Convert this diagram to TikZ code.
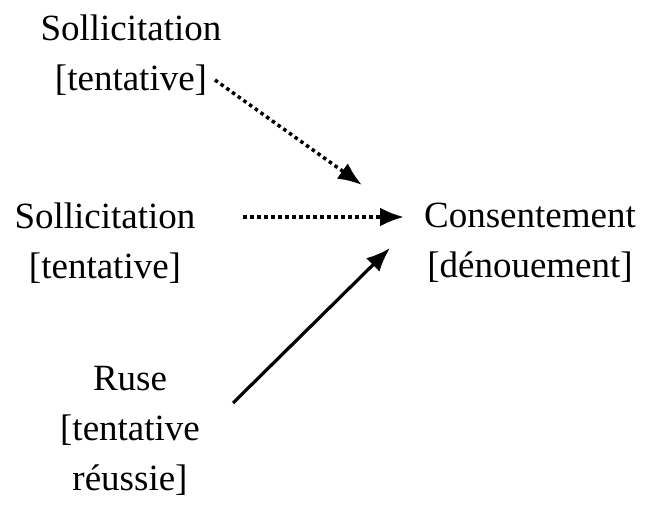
\documentclass[tikz,border=0pt]{standalone}
\usepackage{fontspec}
\setmainfont{Liberation Serif}
\usetikzlibrary{arrows.meta}
\tikzset{
	lbl/.style={align=center, inner sep=0pt, font=\fontsize{37}{50}\selectfont},
	tip/.style={-{Latex[length=24pt,width=19pt]}, line width=3.2pt},
	dots/.style={tip, dash pattern=on 3.5pt off 3.5pt, line width=3.5pt}
}
\begin{document}
\begin{tikzpicture}[x=1pt,y=-1pt]
	\useasboundingbox (0,0) rectangle (650,514);
	\node[lbl] (sol1) at (131,55) {Sollicitation\\\relax[tentative]};
	\node[lbl] (sol2) at (105,243) {Sollicitation\\\relax[tentative]};
	\node[lbl] (cons) at (530,243) {Consentement\\\relax[dénouement]};
	\node[lbl] (ruse) at (130,431) {Ruse\\\relax[tentative\\réussie]};
	\coordinate (a1) at (215,80);
	\coordinate (b1) at (362,185);
	\coordinate (a2) at (243,217);
	\coordinate (b2) at (404,217);
	\coordinate (a3) at (233,403);
	\coordinate (b3) at (390,248);
	\draw[dots] (a1)--(b1);
	\draw[dots] (a2)--(b2);
	\draw[tip] (a3)--(b3);
\end{tikzpicture}
\end{document}
